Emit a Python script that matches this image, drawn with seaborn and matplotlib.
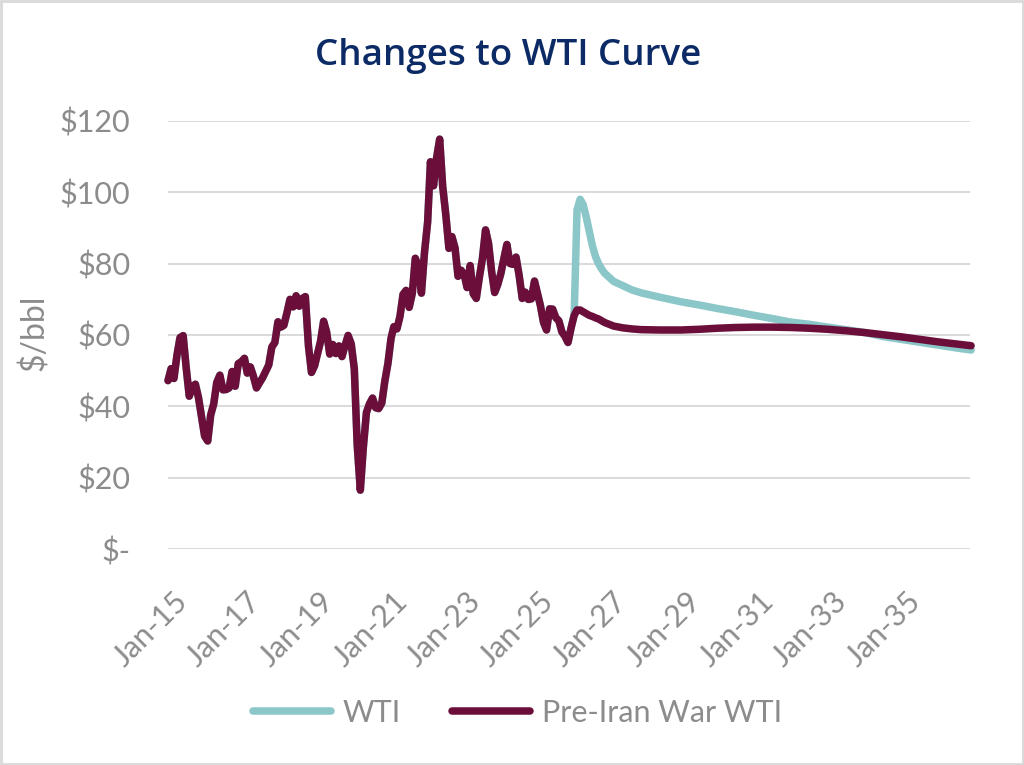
import matplotlib
matplotlib.use("Agg")
import matplotlib.pyplot as plt
import matplotlib.dates as mdates
import matplotlib.transforms as mtransforms
from matplotlib.lines import Line2D
from matplotlib.patches import Rectangle
import seaborn as sns
import pandas as pd

# ---------------- data ----------------
hist_start = "2015-01-01"
hist_values = [
    47.22, 50.58, 47.82, 54.45, 59.27, 59.82, 50.90, 42.87, 45.48, 46.22, 42.44, 37.19,
    31.68, 30.32, 37.55, 40.75, 46.71, 48.76, 44.65, 44.72, 45.18, 49.78, 45.66, 51.97,
    52.50, 53.47, 49.33, 51.06, 48.48, 45.18, 46.63, 48.04, 49.82, 51.58, 56.64, 57.88,
    63.70, 62.23, 62.73, 66.25, 69.98, 67.87, 70.98, 68.06, 70.23, 70.75, 56.96, 49.52,
    51.38, 54.95, 58.15, 63.86, 60.83, 54.66, 57.35, 54.81, 56.95, 53.96, 57.03, 59.88,
    57.52, 50.54, 29.21, 16.55, 28.56, 38.31, 40.71, 42.34, 39.63, 39.40, 40.94, 47.02,
    52.00, 59.04, 62.33, 61.72, 65.17, 71.38, 72.49, 67.73, 71.65, 81.48, 79.15, 71.71,
    83.22, 91.64, 108.50, 101.78, 109.55, 114.84, 101.62, 93.67, 84.26, 87.55, 84.37, 76.44,
    78.12, 76.83, 73.28, 79.45, 71.58, 70.25, 76.07, 81.39, 89.43, 85.64, 77.69, 71.90,
    74.15, 77.25, 81.28, 85.35, 80.02, 79.77, 81.80, 76.68, 70.24, 71.99, 69.95, 70.12,
    75.10, 71.53, 68.24, 63.54, 61.41, 67.33, 67.24, 64.86, 63.96, 60.89, 59.64, 57.90,
]

future_dates = [
    "2026-01", "2026-02", "2026-03", "2026-04", "2026-05", "2026-06", "2026-07",
    "2026-08", "2026-09", "2026-10", "2026-11", "2026-12", "2027-03", "2027-06",
    "2027-09", "2027-12", "2028-06", "2029-01", "2029-07", "2030-01", "2030-07",
    "2031-01", "2031-07", "2032-01", "2032-07", "2033-01", "2033-07", "2034-01",
    "2034-07", "2035-01", "2035-07", "2036-01", "2036-07", "2036-12",
]
wti_future = [
    62.0, 66.0, 95.0, 98.0, 96.5, 93.0, 89.0,
    85.0, 82.0, 80.0, 78.5, 77.3, 75.0, 73.8,
    72.6, 71.8, 70.6, 69.3, 68.4, 67.4, 66.5,
    65.5, 64.6, 63.6, 63.0, 62.2, 61.5, 60.7,
    59.6, 58.8, 58.0, 57.2, 56.4, 55.8,
]
prewar_future = [
    62.0, 65.5, 67.0, 67.0, 66.5, 66.0, 65.5,
    65.2, 64.8, 64.5, 64.0, 63.5, 62.5, 62.0,
    61.7, 61.5, 61.4, 61.4, 61.6, 61.9, 62.1,
    62.2, 62.2, 62.1, 61.9, 61.6, 61.2, 60.7,
    60.1, 59.5, 58.8, 58.1, 57.5, 57.0,
]

series_names = ["WTI", "Pre-Iran War WTI"]
series_colors = ["#8BC6C8", "#6B0F3A"]
y_ticks = [0, 20, 40, 60, 80, 100, 120]
y_tick_labels = ["$-", "$20", "$40", "$60", "$80", "$100", "$120"]
x_tick_years = [2015, 2017, 2019, 2021, 2023, 2025, 2027, 2029, 2031, 2033, 2035]

# ---------------- build frame ----------------
hist_dates = pd.date_range(hist_start, periods=len(hist_values), freq="MS")
fut_dates = pd.to_datetime([d + "-01" for d in future_dates])

frames = []
for name, fut in zip(series_names, [wti_future, prewar_future]):
    d = pd.DataFrame({
        "date": list(hist_dates) + list(fut_dates),
        "value": hist_values + fut,
        "series": name,
    })
    frames.append(d)
df = pd.concat(frames, ignore_index=True)

# ---------------- plot ----------------
sns.set_theme(style="white")
plt.rcParams["font.family"] = ["Lato", "DejaVu Sans"]

grey = "#8C8C8C"
fig = plt.figure(figsize=(10.24, 7.65), dpi=100)
ax = fig.add_axes([168 / 1024, 1 - 549.3 / 765, (970 - 168) / 1024, (549.3 - 120.7) / 765])

sns.lineplot(
    data=df, x="date", y="value", hue="series", hue_order=series_names,
    palette=dict(zip(series_names, series_colors)), linewidth=5.4,
    legend=False, ax=ax, sort=False,
)
for ln in ax.get_lines():
    ln.set_solid_capstyle("round")
    ln.set_solid_joinstyle("round")
    ln.set_clip_on(False)

ax.set_ylim(0, 120)
ax.set_yticks(y_ticks)
ax.set_yticklabels(y_tick_labels)
ax.set_xlim(pd.Timestamp("2015-01-01"), pd.Timestamp("2036-11-20"))
ax.set_xticks([pd.Timestamp(f"{y}-01-01") for y in x_tick_years])
ax.xaxis.set_major_formatter(mdates.DateFormatter("%b-%y"))

ax.grid(axis="y", color="#D9D9D9", linewidth=1.4)
ax.set_axisbelow(True)
for s in ax.spines.values():
    s.set_visible(False)

ax.tick_params(axis="y", length=0, pad=27, labelsize=22, labelcolor=grey)
ax.tick_params(axis="x", length=0, pad=27, labelsize=22, labelcolor=grey)
offset = mtransforms.ScaledTranslation(5 / 100, 0, fig.dpi_scale_trans)
for lab in ax.get_xticklabels():
    lab.set_rotation(45)
    lab.set_ha("right")
    lab.set_rotation_mode("anchor")
    lab.set_transform(lab.get_transform() + offset)

ax.set_xlabel("")
ax.set_ylabel("$/bbl", fontsize=23, color=grey)
ax.yaxis.set_label_coords(-0.147, 0.505)

fig.text(0.4966, 1 - 65 / 765, "Changes to WTI Curve", ha="center", va="baseline",
         fontsize=26.5, color="#0C2A66", fontweight="semibold",
         family=["Open Sans", "DejaVu Sans"])

handles = [Line2D([0], [0], color=c, lw=5.4, solid_capstyle="round") for c in series_colors]
leg = fig.legend(handles, series_names, loc="center", bbox_to_anchor=(517.5 / 1024, 1 - 713 / 765),
                 ncol=2, frameon=False, fontsize=22, handlelength=2.55,
                 columnspacing=1.67, handletextpad=0.4)
for t in leg.get_texts():
    t.set_color(grey)

fig.patches.append(Rectangle((0.001, 0.001), 0.998, 0.998, transform=fig.transFigure,
                             fill=False, edgecolor="#D9D9D9", linewidth=2))

fig.savefig("out.png", dpi=100)
